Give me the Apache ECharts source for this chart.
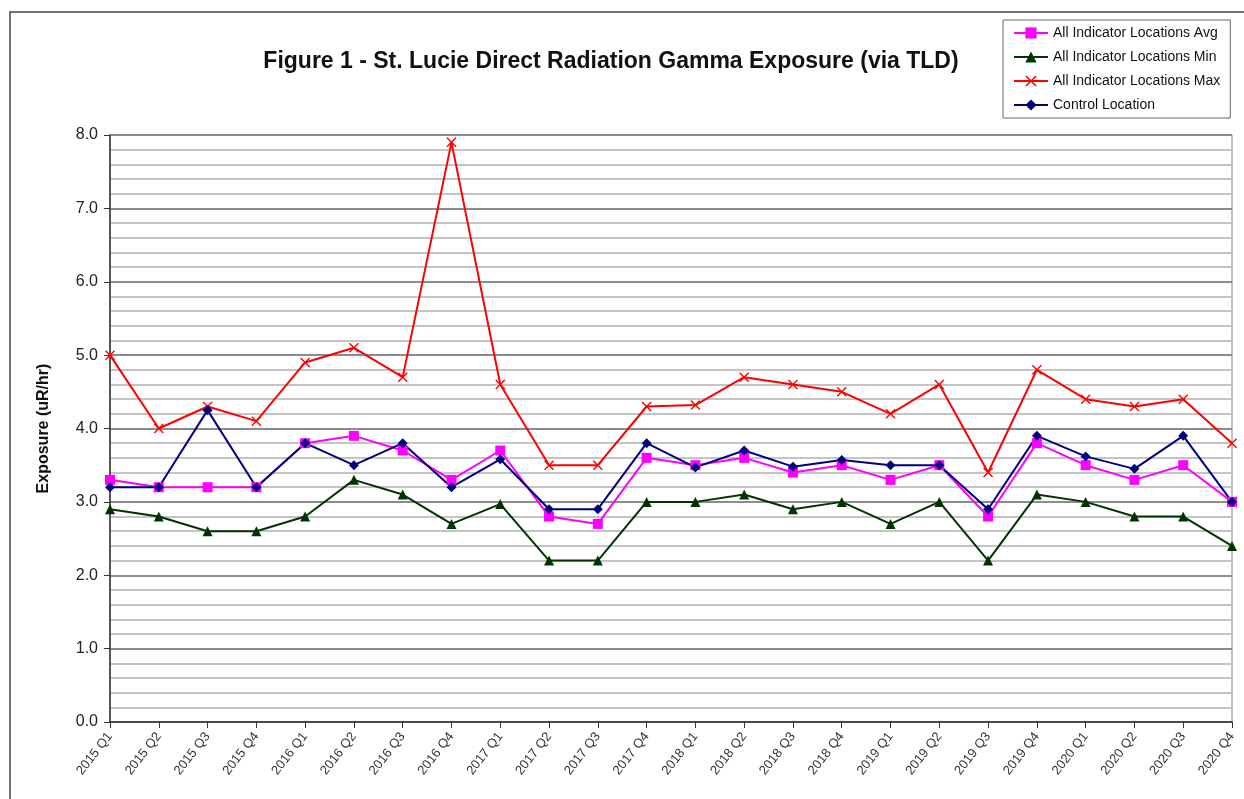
<!DOCTYPE html>
<html>
<head>
<meta charset="utf-8">
<title>St. Lucie Direct Radiation Gamma Exposure</title>
<script src="https://cdn.jsdelivr.net/npm/echarts@6/dist/echarts.min.js"></script>
<style>
  html, body { margin: 0; padding: 0; background: #fff; }
  #chart { width: 1244px; height: 799px; }
</style>
</head>
<body>
<div id="chart"></div>
<script>
// quarters on the x axis
const quarters = [
  '2015 Q1', '2015 Q2', '2015 Q3', '2015 Q4',
  '2016 Q1', '2016 Q2', '2016 Q3', '2016 Q4',
  '2017 Q1', '2017 Q2', '2017 Q3', '2017 Q4',
  '2018 Q1', '2018 Q2', '2018 Q3', '2018 Q4',
  '2019 Q1', '2019 Q2', '2019 Q3', '2019 Q4',
  '2020 Q1', '2020 Q2', '2020 Q3', '2020 Q4'
]

// exposure values (uR/hr)
const indicatorAvg = [3.3, 3.2, 3.2, 3.2, 3.8, 3.9, 3.7, 3.3, 3.7, 2.8, 2.7, 3.6,
  3.5, 3.6, 3.4, 3.5, 3.3, 3.5, 2.8, 3.8, 3.5, 3.3, 3.5, 3.0]
const indicatorMin = [2.9, 2.8, 2.6, 2.6, 2.8, 3.3, 3.1, 2.7, 2.97, 2.2, 2.2, 3.0,
  3.0, 3.1, 2.9, 3.0, 2.7, 3.0, 2.2, 3.1, 3.0, 2.8, 2.8, 2.4]
const indicatorMax = [5.0, 4.0, 4.3, 4.1, 4.9, 5.1, 4.7, 7.9, 4.6, 3.5, 3.5, 4.3,
  4.32, 4.7, 4.6, 4.5, 4.2, 4.6, 3.4, 4.8, 4.4, 4.3, 4.4, 3.8]
const controlLoc = [3.2, 3.2, 4.25, 3.2, 3.8, 3.5, 3.8, 3.2, 3.58, 2.9, 2.9, 3.8,
  3.47, 3.7, 3.48, 3.57, 3.5, 3.5, 2.9, 3.9, 3.62, 3.45, 3.9, 3.0]

// thin "x" marker for the max series
const crossSymbol = 'path://M0,1L1,0L5,4L9,0L10,1L6,5L10,9L9,10L5,6L1,10L0,9L4,5Z'

const chart = echarts.init(document.getElementById('chart'))

function lineSeries(name, data, color, symbol, size) {
  return {
    name: name,
    type: 'line',
    data: data,
    symbol: symbol,
    symbolSize: size,
    lineStyle: { color: color, width: 2 },
    itemStyle: { color: color },
    emphasis: { disabled: true },
    z: 3
  }
}

chart.setOption({
  animation: false,
  textStyle: { fontFamily: 'Liberation Sans, Arial, sans-serif' },
  title: {
    text: 'Figure 1 - St. Lucie Direct Radiation Gamma Exposure (via TLD)',
    left: 606,
    textAlign: 'center',
    top: 45,
    textStyle: { fontSize: 23, fontWeight: 'bold', color: '#111' }
  },
  graphic: [{
    type: 'rect',
    shape: { x: 10, y: 12, width: 1300, height: 900 },
    style: { fill: 'none', stroke: '#444', lineWidth: 1.5 },
    silent: true
  }],
  legend: {
    orient: 'vertical',
    left: 1003,
    top: 20,
    padding: [6, 10, 6, 10],
    itemWidth: 34,
    itemHeight: 14,
    itemGap: 10,
    borderColor: '#666',
    borderWidth: 1,
    backgroundColor: '#fff',
    textStyle: { fontSize: 14, color: '#111' },
    data: ['All Indicator Locations Avg', 'All Indicator Locations Min',
      'All Indicator Locations Max', 'Control Location']
  },
  grid: {
    left: 110,
    right: 12,
    top: 135,
    bottom: 77,
    show: true,
    borderColor: '#888',
    borderWidth: 1
  },
  xAxis: {
    type: 'category',
    data: quarters,
    boundaryGap: false,
    axisLine: { lineStyle: { color: '#333', width: 1.5 } },
    axisTick: { show: true, alignWithLabel: true, length: 6, lineStyle: { color: '#333' } },
    axisLabel: { rotate: 52, fontSize: 13, color: '#333', interval: 0, margin: 12 },
    splitLine: { show: false }
  },
  yAxis: {
    type: 'value',
    min: 0,
    max: 8,
    interval: 1,
    name: 'Exposure (uR/hr)',
    nameLocation: 'middle',
    nameGap: 58,
    nameTextStyle: { fontSize: 16, fontWeight: 'bold', color: '#111' },
    axisLine: { show: true, lineStyle: { color: '#333', width: 1.5 } },
    axisTick: { show: true, length: 6, lineStyle: { color: '#333' } },
    axisLabel: {
      fontSize: 16,
      color: '#222',
      margin: 12,
      formatter: v => v.toFixed(1)
    },
    splitLine: { show: true, lineStyle: { color: '#8c8c8c', width: 2 } },
    minorTick: { show: false, splitNumber: 5 },
    minorSplitLine: { show: true, lineStyle: { color: '#c4c4c4', width: 2 } }
  },
  series: [
    lineSeries('All Indicator Locations Avg', indicatorAvg, '#ff00ff', 'rect', 10),
    lineSeries('All Indicator Locations Min', indicatorMin, '#003300', 'triangle', 10),
    lineSeries('All Indicator Locations Max', indicatorMax, '#ff0000', crossSymbol, 10),
    lineSeries('Control Location', controlLoc, '#000080', 'diamond', 10)
  ]
})
</script>
</body>
</html>
